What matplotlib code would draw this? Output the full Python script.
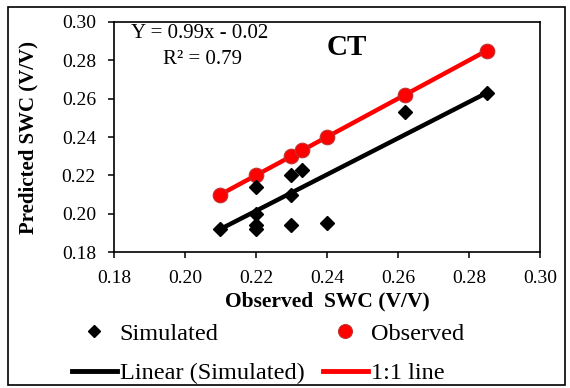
import numpy as np
import matplotlib
matplotlib.use("Agg")
import matplotlib.pyplot as plt
from matplotlib.lines import Line2D
from matplotlib.patches import Rectangle

plt.rcParams['font.family'] = ['Liberation Serif', 'DejaVu Serif']

# Data
sim_x = [0.21, 0.22, 0.22, 0.22, 0.22, 0.23, 0.23, 0.23, 0.233, 0.24, 0.262, 0.285]
sim_y = [0.192, 0.214, 0.200, 0.194, 0.192, 0.220, 0.210, 0.194, 0.223, 0.195, 0.253, 0.263]
obs_x = [0.21, 0.22, 0.23, 0.233, 0.24, 0.262, 0.285]
obs_y = [0.21, 0.22, 0.23, 0.233, 0.24, 0.262, 0.285]
trend_slope = 0.947
trend_intercept = -0.0069
ticks = [0.18, 0.20, 0.22, 0.24, 0.26, 0.28, 0.30]
tick_labels = ["0.18", "0.20", "0.22", "0.24", "0.26", "0.28", "0.30"]

fig = plt.figure(figsize=(5.7, 3.88), dpi=100)
ax = fig.add_axes([0.2, 0.3505, 0.747, 0.5928])

tx = np.array([min(sim_x), max(sim_x)])
ax.plot(tx, trend_slope * tx + trend_intercept, color='black', lw=3.2, zorder=2,
        solid_capstyle='butt')
ax.plot(obs_x, obs_y, color='#FF0000', lw=3.2, zorder=3)
ax.plot(obs_x, obs_y, linestyle='none', marker='o', ms=10.5, mfc='#FF0000',
        mec='#C03030', mew=0.8, zorder=4)
ax.plot(sim_x, sim_y, linestyle='none', marker='D', ms=7.5, mfc='black',
        mec='black', zorder=5)

ax.set_xlim(0.18, 0.30)
ax.set_ylim(0.18, 0.30)
ax.set_xticks(ticks)
ax.set_xticklabels(tick_labels)
ax.set_yticks(ticks)
ax.set_yticklabels(tick_labels)
ax.tick_params(direction='out', length=4, width=1.1, labelsize=14, pad=9, colors='black')
for s in ax.spines.values():
    s.set_linewidth(1.2)
    s.set_color('black')

ax.set_xlabel("Observed  SWC (V/V)", fontsize=15.5, fontweight='bold', va='center')
ax.xaxis.set_label_coords(0.5, -0.213)
ax.set_ylabel("Predicted SWC (V/V)", fontsize=15, fontweight='bold', va='center')
ax.yaxis.set_label_coords(-0.202, 0.5)

ax.text(0.202, 0.948, "Y = 0.99x - 0.02", transform=ax.transAxes,
        ha='center', va='center', fontsize=15)
ax.text(0.207, 0.839, "R² = 0.79", transform=ax.transAxes,
        ha='center', va='center', fontsize=15)
ax.text(0.547, 0.891, "CT", transform=ax.transAxes, ha='center', va='center',
        fontsize=21, fontweight='bold')

handles = [
    Line2D([], [], linestyle='none', marker='D', ms=6.5, color='black'),
    Line2D([], [], color='black', lw=3.5),
    Line2D([], [], linestyle='none', marker='o', ms=10, mfc='#FF0000', mec='#C03030', mew=0.8),
    Line2D([], [], color='#FF0000', lw=3.5),
]
labels = ["Simulated", "Linear (Simulated)", "Observed", "1:1 line"]
fig.legend(handles, labels, ncol=2, loc='center', bbox_to_anchor=(0.47, 0.089),
           frameon=False, fontsize=17.5, handlelength=1.85, handletextpad=0.12,
           columnspacing=0.75, labelspacing=0.72, borderpad=0)

fig.patches.append(Rectangle((8 / 570, 3 / 388), 557 / 570, 378 / 388,
                             transform=fig.transFigure, fill=False,
                             edgecolor='black', lw=1.2))

fig.savefig("out.png", dpi=100)
